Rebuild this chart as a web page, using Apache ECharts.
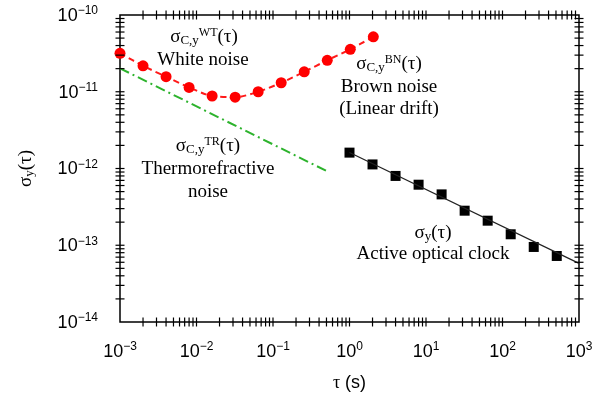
<!DOCTYPE html>
<html lang="en">
<head>
<meta charset="UTF-8" />
<title>Allan deviation - active optical clock</title>
<script src="https://cdn.jsdelivr.net/npm/echarts@6/dist/echarts.min.js"></script>
<style>
  html, body { margin: 0; padding: 0; background: #fff; }
  #chart { width: 607px; height: 401px; }
</style>
</head>
<body>
<div id="chart"></div>
<script>
// averaging time tau (s) and Allan deviation values
const tauWhiteBrown = [0.001, 0.002, 0.004, 0.008, 0.016, 0.032, 0.064, 0.128, 0.256, 0.512, 1.024, 2.048];
const sigmaWhiteBrown = [3.17e-11, 2.18e-11, 1.57e-11, 1.14e-11, 8.8e-12, 8.5e-12, 1.0e-11, 1.31e-11, 1.82e-11, 2.57e-11, 3.57e-11, 5.2e-11];
const tauThermo = [0.001, 0.545];
const sigmaThermo = [2.02e-11, 8.9e-13];
const tauClock = [1, 2, 4, 8, 16, 32, 64, 128, 256, 512];
const sigmaClock = [1.61e-12, 1.13e-12, 8.0e-13, 6.15e-13, 4.6e-13, 2.82e-13, 2.09e-13, 1.39e-13, 9.5e-14, 7.25e-14];
const tauClockFit = [1, 1000];
const sigmaClockFit = [1.62e-12, 5.8e-14];

// axis ranges and minor tick layout
const xMin = 1e-3, xMax = 1e3;
const yMin = 1e-14, yMax = 1e-10;
const xTickDecades = [-3, -2, -1, 0, 1, 2];
const yTickDecades = [-14, -13, -12, -11];
const tickMantissas = [1, 2, 3, 4, 5, 6, 7, 8, 9];

const zip = (a, b) => a.map((v, i) => [v, b[i]]);

const SERIF = '"Liberation Serif", "DejaVu Serif", serif';
const SANS = '"Liberation Sans", Arial, sans-serif';

const powRich = {
  b: { fontSize: 18, fontFamily: SANS, color: '#000', lineHeight: 20, verticalAlign: 'bottom' },
  e: { fontSize: 12, fontFamily: SANS, color: '#000', lineHeight: 12, verticalAlign: 'top' }
};
function powLabel(v) {
  const e = Math.round(Math.log10(v));
  return '{b|10}{e|' + String(e).replace('-', '\u2212') + '}';
}

const annRich = {
  s: { fontSize: 19, fontFamily: SERIF, fill: '#000', lineHeight: 20, verticalAlign: 'middle' },
  sub: { fontSize: 13, fontFamily: SERIF, fill: '#000', lineHeight: 14, verticalAlign: 'bottom' },
  sup: { fontSize: 12, fontFamily: SERIF, fill: '#000', lineHeight: 12, verticalAlign: 'top' }
};
function ann(text, x, y) {
  return {
    type: 'text', x: x, y: y, silent: true,
    style: { text: text, rich: annRich, font: '19px ' + SERIF, fill: '#000', align: 'center', verticalAlign: 'middle' }
  };
}

// tick marks crossing all four frame edges
function renderTicks(params, api) {
  const children = [];
  const half = 4.5;
  const line = (x1, y1, x2, y2) => ({
    type: 'line', shape: { x1, y1, x2, y2 }, style: { stroke: '#000', lineWidth: 1.2 }
  });
  xTickDecades.forEach(d => tickMantissas.forEach(m => {
    const v = m * Math.pow(10, d);
    if (v <= xMin * 1.0001) return;
    const pb = api.coord([v, yMin]);
    const pt = api.coord([v, yMax]);
    children.push(line(pb[0], pb[1] - half, pb[0], pb[1] + half));
    children.push(line(pt[0], pt[1] - half, pt[0], pt[1] + half));
  }));
  yTickDecades.forEach(d => tickMantissas.forEach(m => {
    const v = m * Math.pow(10, d);
    if (v <= yMin * 1.0001) return;
    const pl = api.coord([xMin, v]);
    const pr = api.coord([xMax, v]);
    children.push(line(pl[0] - half, pl[1], pl[0] + half, pl[1]));
    children.push(line(pr[0] - half, pr[1], pr[0] + half, pr[1]));
  }));
  return { type: 'group', children: children };
}

const chart = echarts.init(document.getElementById('chart'));
chart.setOption({
  backgroundColor: '#fff',
  animation: false,
  grid: { left: 120, right: 28, top: 15, bottom: 79, show: true, borderColor: '#000', borderWidth: 1.5 },
  xAxis: {
    type: 'log', logBase: 10, min: xMin, max: xMax,
    axisLine: { show: false }, axisTick: { show: false }, splitLine: { show: false },
    axisLabel: { margin: 19, formatter: powLabel, rich: powRich },
    name: '{t|\u03c4}{n| (s)}', nameLocation: 'middle', nameGap: 52,
    nameTextStyle: {
      rich: {
        t: { fontSize: 18, fontFamily: SERIF, color: '#000' },
        n: { fontSize: 18, fontFamily: SANS, color: '#000' }
      }
    }
  },
  yAxis: {
    type: 'log', logBase: 10, min: yMin, max: yMax,
    axisLine: { show: false }, axisTick: { show: false }, splitLine: { show: false },
    axisLabel: { margin: 22, formatter: powLabel, rich: powRich },
    name: '{s|\u03c3}{sub|y}{s|(\u03c4)}', nameLocation: 'middle', nameGap: 84, nameRotate: 90,
    nameTextStyle: {
      rich: {
        s: { fontSize: 19, fontFamily: SERIF, color: '#000', lineHeight: 20, verticalAlign: 'middle' },
        sub: { fontSize: 13, fontFamily: SERIF, color: '#000', lineHeight: 14, verticalAlign: 'bottom' }
      }
    }
  },
  series: [
    {
      name: 'ticks', type: 'custom', silent: true, z: 10,
      renderItem: renderTicks, data: [[1, 1e-12]]
    },
    {
      name: 'thermorefractive', type: 'line', data: zip(tauThermo, sigmaThermo),
      showSymbol: false, lineStyle: { color: '#2db32d', width: 2, type: [10, 4, 2, 4] }
    },
    {
      name: 'white + brown', type: 'line', data: zip(tauWhiteBrown, sigmaWhiteBrown),
      symbol: 'circle', symbolSize: 11, smooth: 0.3,
      itemStyle: { color: '#ff0000', opacity: 1 },
      lineStyle: { color: '#ff1a1a', width: 2, type: [6, 4] }
    },
    {
      name: 'clock fit', type: 'line', data: zip(tauClockFit, sigmaClockFit),
      showSymbol: false, lineStyle: { color: '#222', width: 1.2 }
    },
    {
      name: 'active clock', type: 'scatter', data: zip(tauClock, sigmaClock),
      symbol: 'rect', symbolSize: 10, itemStyle: { color: '#000', opacity: 1 }
    }
  ],
  graphic: [
    ann('{s|\u03c3}{sub|C,y}{sup|WT}{s|(\u03c4)}', 204, 37),
    ann('White noise', 203, 60),
    ann('{s|\u03c3}{sub|C,y}{sup|BN}{s|(\u03c4)}', 389, 64),
    ann('Brown noise', 389, 87),
    ann('(Linear drift)', 389, 109),
    ann('{s|\u03c3}{sub|C,y}{sup|TR}{s|(\u03c4)}', 208, 146),
    ann('Thermorefractive', 208, 169),
    ann('noise', 208, 192),
    ann('{s|\u03c3}{sub|y}{s|(\u03c4)}', 433, 233),
    ann('Active optical clock', 433, 254)
  ]
});
</script>
</body>
</html>
